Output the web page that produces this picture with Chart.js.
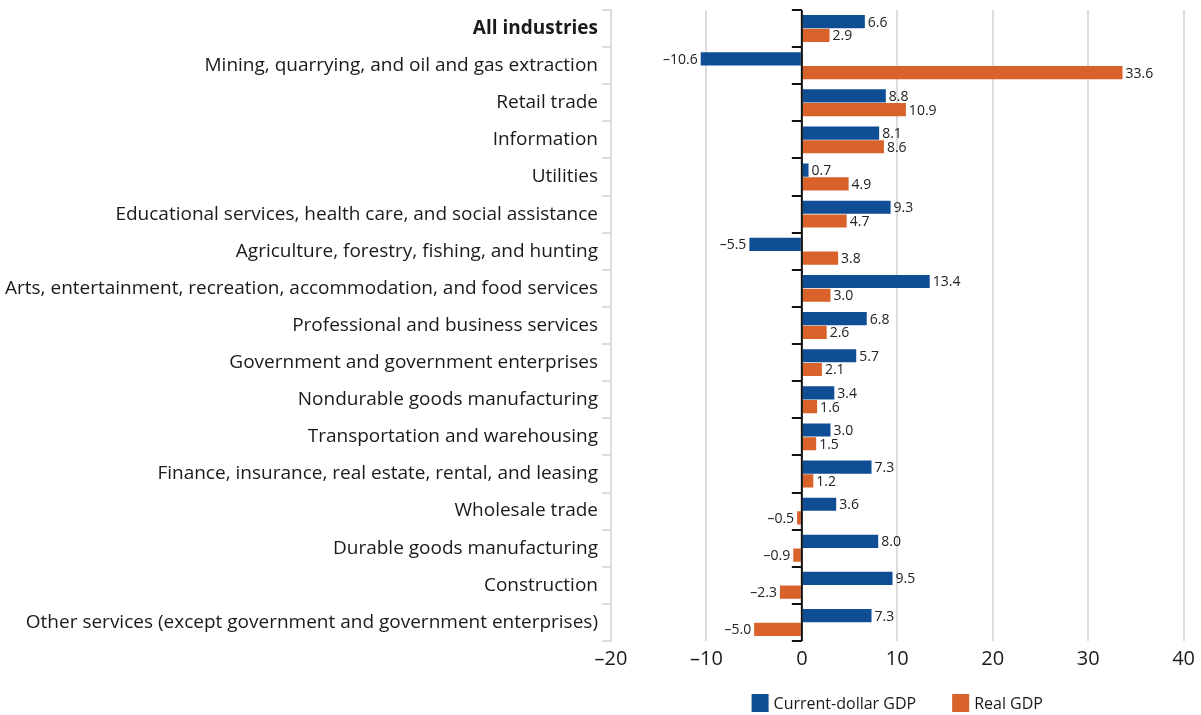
<!DOCTYPE html>
<html>
<head>
<meta charset="utf-8">
<script src="https://cdn.jsdelivr.net/npm/chart.js@4.4.1/dist/chart.umd.min.js"></script>
<style>
  html, body { margin: 0; padding: 0; background: #fff; }
  #wrap { width: 1201px; height: 715px; position: relative; }
</style>
</head>
<body>
<div id="wrap"><canvas id="gdpChart"></canvas></div>
<script>
const industries = [
  "All industries",
  "Mining, quarrying, and oil and gas extraction",
  "Retail trade",
  "Information",
  "Utilities",
  "Educational services, health care, and social assistance",
  "Agriculture, forestry, fishing, and hunting",
  "Arts, entertainment, recreation, accommodation, and food services",
  "Professional and business services",
  "Government and government enterprises",
  "Nondurable goods manufacturing",
  "Transportation and warehousing",
  "Finance, insurance, real estate, rental, and leasing",
  "Wholesale trade",
  "Durable goods manufacturing",
  "Construction",
  "Other services (except government and government enterprises)"
];
const currentDollar = [6.6, -10.6, 8.8, 8.1, 0.7, 9.3, -5.5, 13.4, 6.8, 5.7, 3.4, 3.0, 7.3, 3.6, 8.0, 9.5, 7.3];
const realGdp = [2.9, 33.6, 10.9, 8.6, 4.9, 4.7, 3.8, 3.0, 2.6, 2.1, 1.6, 1.5, 1.2, -0.5, -0.9, -2.3, -5.0];
const xTicks = [-20, -10, 0, 10, 20, 30, 40];

const BLUE = "#0f4e94";
const ORANGE = "#d9622b";
const FONT = "'Open Sans', 'Noto Sans', sans-serif";

function fmt(v, digits) {
  const s = Math.abs(v).toFixed(digits);
  return v < 0 ? "\u2013" + s : s;
}

// value labels at the end of every bar
const barLabels = {
  id: "barLabels",
  afterDatasetsDraw(chart) {
    const ctx = chart.ctx;
    ctx.save();
    ctx.font = "14px " + FONT;
    ctx.fillStyle = "#222";
    ctx.textBaseline = "middle";
    chart.data.datasets.forEach((ds, di) => {
      chart.getDatasetMeta(di).data.forEach((bar, i) => {
        const v = ds.data[i];
        if (v >= 0) {
          ctx.textAlign = "left";
          ctx.fillText(fmt(v, 1), bar.x + 3, bar.y + 1);
        } else {
          ctx.textAlign = "right";
          ctx.fillText(fmt(v, 1), bar.x - 3, bar.y + 1);
        }
      });
    });
    ctx.restore();
  }
};

// small black ticks on the zero line between categories
const zeroTicks = {
  id: "zeroTicks",
  afterDatasetsDraw(chart) {
    const ctx = chart.ctx;
    const x0 = chart.scales.x.getPixelForValue(0);
    const y = chart.scales.y;
    const step = (y.bottom - y.top) / industries.length;
    ctx.save();
    ctx.strokeStyle = "#111";
    ctx.lineWidth = 2;
    ctx.beginPath();
    ctx.moveTo(x0, y.top);
    ctx.lineTo(x0, y.bottom);
    for (let i = 0; i <= industries.length; i++) {
      const yy = Math.round(y.top + i * step);
      ctx.moveTo(x0 - 10, yy);
      ctx.lineTo(x0, yy);
    }
    ctx.stroke();
    ctx.restore();
  }
};

// legend under the plot, centred on the chart area
const bottomLegend = {
  id: "bottomLegend",
  afterDraw(chart) {
    const ctx = chart.ctx;
    const area = chart.chartArea;
    const boxW = 17, boxH = 18, textGap = 5, itemGap = 36;
    ctx.save();
    ctx.font = "16px " + FONT;
    ctx.textBaseline = "middle";
    ctx.textAlign = "left";
    const items = chart.data.datasets.map(ds => ({
      text: ds.label,
      color: ds.backgroundColor,
      w: boxW + textGap + ctx.measureText(ds.label).width
    }));
    const total = items.reduce((s, it) => s + it.w, 0) + itemGap * (items.length - 1);
    let x = (area.left + area.right) / 2 - total / 2;
    const top = chart.height - 21;
    items.forEach(it => {
      ctx.fillStyle = it.color;
      ctx.fillRect(x, top, boxW, boxH);
      ctx.fillStyle = "#1a1a1a";
      ctx.fillText(it.text, x + boxW + textGap, top + boxH / 2 + 1);
      x += it.w + itemGap;
    });
    ctx.restore();
  }
};

new Chart(document.getElementById("gdpChart"), {
  type: "bar",
  data: {
    labels: industries,
    datasets: [
      { label: "Current-dollar GDP", data: currentDollar, backgroundColor: BLUE },
      { label: "Real GDP", data: realGdp, backgroundColor: ORANGE }
    ]
  },
  options: {
    indexAxis: "y",
    responsive: true,
    maintainAspectRatio: false,
    animation: false,
    datasets: { bar: { categoryPercentage: 0.74, barPercentage: 0.96 } },
    layout: { padding: { top: 10, right: 16, bottom: 38, left: 0 } },
    scales: {
      x: {
        min: -20,
        max: 40,
        afterBuildTicks(scale) {
          scale.ticks = xTicks.map(v => ({ value: v }));
        },
        grid: {
          color: "#dcdcdc",
          lineWidth: 2,
          drawTicks: false
        },
        border: { display: false },
        ticks: {
          padding: 6,
          color: "#1a1a1a",
          font: { family: FONT, size: 20 },
          callback: v => fmt(v, 0)
        }
      },
      y: {
        afterFit(scale) {
          scale.width = 611;
          scale.paddingTop = 0;
          scale.paddingBottom = 0;
        },
        grid: {
          drawOnChartArea: false,
          drawTicks: true,
          tickLength: 9,
          color: "#dcdcdc",
          lineWidth: 2
        },
        border: { display: true, color: "#dcdcdc", width: 2 },
        ticks: {
          padding: 4,
          color: "#1a1a1a",
          font: ctx => ({ family: FONT, size: 19, weight: ctx.index === 0 ? "bold" : "normal" })
        }
      }
    },
    plugins: {
      legend: { display: false },
      tooltip: { enabled: false }
    }
  },
  plugins: [barLabels, zeroTicks, bottomLegend]
});
</script>
</body>
</html>
